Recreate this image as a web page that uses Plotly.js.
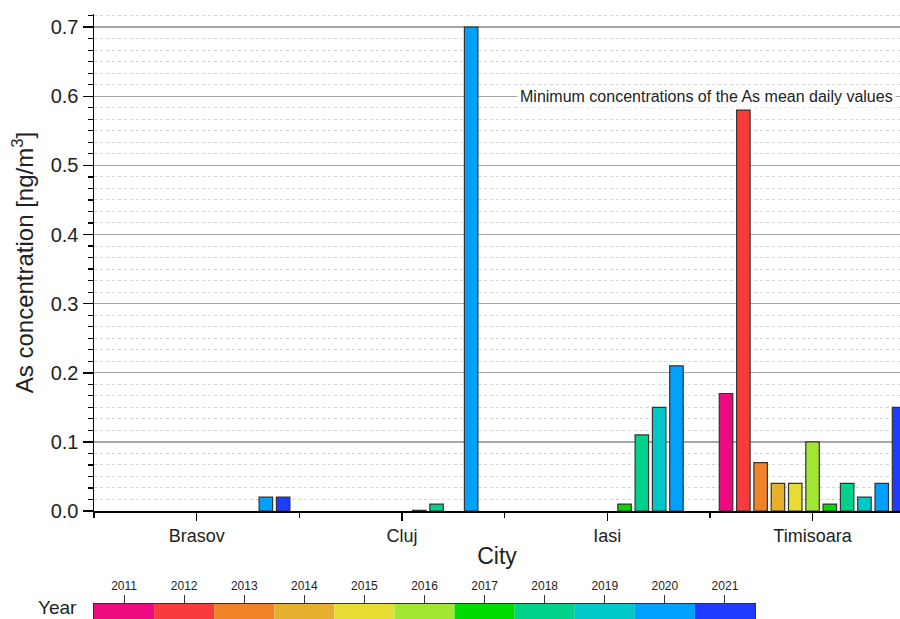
<!DOCTYPE html>
<html>
<head>
<meta charset="utf-8">
<script src="https://cdn.plot.ly/plotly-3.0.1.min.js"></script>
<style>
html,body{margin:0;padding:0;background:#fff;}
#chart{width:900px;height:619px;}
</style>
</head>
<body>
<div id="chart"></div>
<script>
const cities = ['Brasov', 'Cluj', 'Iasi', 'Timisoara'];
const years = [2011, 2012, 2013, 2014, 2015, 2016, 2017, 2018, 2019, 2020, 2021];
const yearColors = ['#EE0A80', '#F83C3C', '#F08228', '#E6AF2D', '#E6DC32', '#A0E632',
                    '#00DC00', '#00D28C', '#00C8C8', '#00A0FF', '#1E3CFF'];
// values per city, ordered by year 2011..2021 (null = no data)
const brasov    = [null, null, null, null, null, null, null, null, null, 0.02, 0.02];
const cluj      = [null, null, null, null, null, null, 0.001, 0.01, null, 0.70, null];
const iasi      = [null, null, null, null, null, null, 0.01, 0.11, 0.15, 0.21, null];
const timisoara = [0.17, 0.58, 0.07, 0.04, 0.04, 0.10, 0.01, 0.04, 0.02, 0.04, 0.15];
const annotationText = 'Minimum concentrations of the As mean daily values';
const annotationLevel = 0.6;

const byCity = [brasov, cluj, iasi, timisoara];
const cityIdx = cities.map((c, i) => i);
const FONT = 'Liberation Sans, Arial, sans-serif';

const traces = years.map((yr, j) => ({
  type: 'bar',
  name: String(yr),
  x: cityIdx,
  y: byCity.map(a => a[j]),
  marker: {color: yearColors[j], line: {color: '#333', width: 1.2}},
  hoverinfo: 'skip',
  showlegend: false
}));

// colour strip (Year scale)
traces.push({
  type: 'bar',
  x: years,
  y: years.map(() => 1),
  width: years.map(() => 1),
  marker: {color: yearColors, line: {width: 0}},
  xaxis: 'x2', yaxis: 'y2',
  hoverinfo: 'skip',
  showlegend: false
});

const layout = {
  width: 900, height: 619,
  margin: {l: 94, r: 0, t: 14, b: 0},
  paper_bgcolor: '#fff', plot_bgcolor: '#fff',
  font: {family: FONT, color: '#222'},
  barmode: 'group',
  bargap: 0.073,
  bargroupgap: 0.22,
  showlegend: false,
  xaxis: {
    domain: [0, 1],
    range: [-0.5, 3.426],
    tickmode: 'array',
    tickvals: cityIdx,
    ticktext: cities,
    ticks: 'outside', ticklen: 8, tickwidth: 1.5, tickcolor: '#000',
    minor: {dtick: 0.5, tick0: 0, ticks: 'outside', ticklen: 5, tickwidth: 1.5, tickcolor: '#000', showgrid: false},
    showline: true, linecolor: '#000', linewidth: 1.5,
    showgrid: false, zeroline: false,
    tickfont: {size: 18, family: FONT, color: '#222'},
    title: {text: 'City', font: {size: 23, family: FONT, color: '#222'}, standoff: 3},
    fixedrange: true
  },
  yaxis: {
    domain: [108 / 605, 1],
    range: [0, 0.719],
    dtick: 0.1, tick0: 0, tickformat: '.1f',
    ticks: 'outside', ticklen: 10, tickwidth: 1.5, tickcolor: '#000',
    minor: {dtick: 0.1 / 6, tick0: 0, ticks: 'outside', ticklen: 5, tickwidth: 1.2, tickcolor: '#000',
            showgrid: true, gridcolor: '#d2d2d2', griddash: 'dot', gridwidth: 1},
    showline: true, linecolor: '#000', linewidth: 1.5,
    showgrid: true, gridcolor: '#a6a6a6', gridwidth: 1.3,
    zeroline: false,
    tickfont: {size: 20, family: FONT, color: '#222'},
    title: {text: 'As concentration [ng/m<sup>3</sup>]', font: {size: 24, family: FONT, color: '#222'}, standoff: 10},
    fixedrange: true
  },
  xaxis2: {
    domain: [0, 661 / 806],
    anchor: 'y2',
    range: [2010.5, 2021.5],
    side: 'top',
    tickmode: 'array', tickvals: years, ticktext: years.map(String),
    ticks: 'outside', ticklen: 8, tickwidth: 1, tickcolor: '#333',
    showline: true, linecolor: '#333', linewidth: 1,
    showgrid: false, zeroline: false,
    tickfont: {size: 12, family: FONT, color: '#222'},
    fixedrange: true
  },
  yaxis2: {
    domain: [0, 15 / 605],
    anchor: 'x2',
    range: [0, 1],
    showticklabels: false, ticks: '',
    showline: true, mirror: true, linecolor: '#333', linewidth: 1,
    showgrid: false, zeroline: false,
    fixedrange: true
  },
  annotations: [
    {
      text: annotationText,
      xref: 'paper', yref: 'y',
      x: (706 - 94) / 806, y: annotationLevel,
      xanchor: 'center', yanchor: 'middle',
      showarrow: false,
      bgcolor: '#fff',
      borderpad: 2,
      font: {size: 16, family: FONT, color: '#222'}
    },
    {
      text: 'Year',
      xref: 'paper', yref: 'paper',
      x: -0.02, y: 0,
      xanchor: 'right', yanchor: 'bottom',
      borderpad: 0,
      showarrow: false,
      font: {size: 19, family: FONT, color: '#222'}
    }
  ]
};

Plotly.newPlot('chart', traces, layout, {staticPlot: true, displayModeBar: false});
</script>
</body>
</html>
